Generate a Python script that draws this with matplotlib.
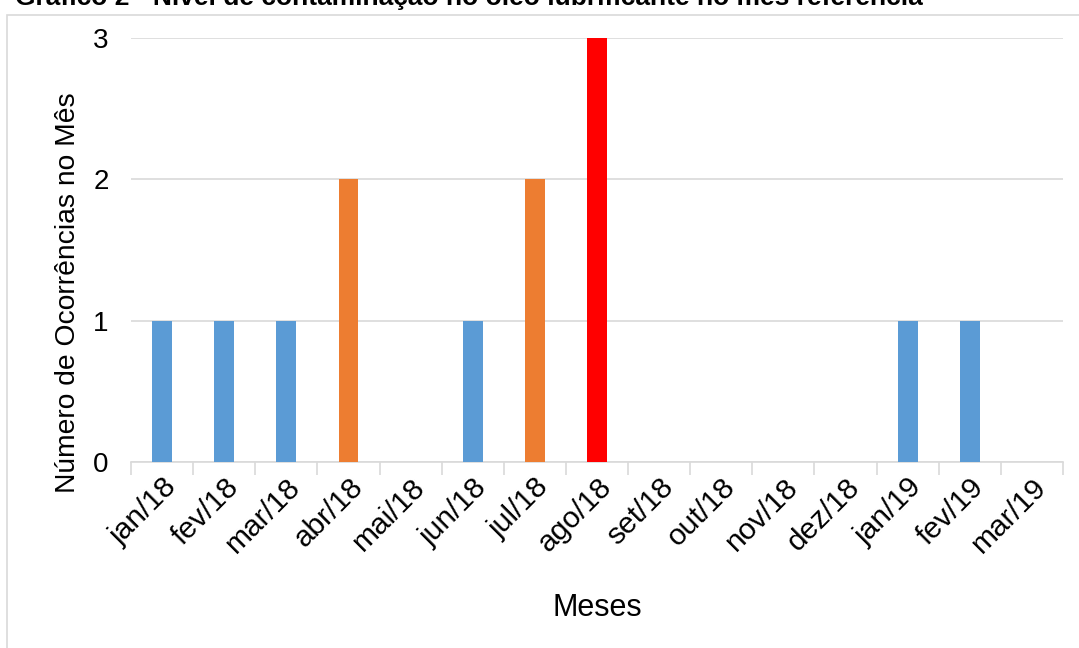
import numpy as np
import matplotlib.pyplot as plt
from matplotlib.patches import Rectangle

plt.rcParams['font.family'] = ['Liberation Sans', 'DejaVu Sans']

# ocorrências por mês
meses = ['jan/18', 'fev/18', 'mar/18', 'abr/18', 'mai/18', 'jun/18', 'jul/18',
         'ago/18', 'set/18', 'out/18', 'nov/18', 'dez/18', 'jan/19', 'fev/19', 'mar/19']
ocorrencias = [1, 1, 1, 2, 0, 1, 2, 3, 0, 0, 0, 0, 1, 1, 0]

# cor conforme o nível de contaminação
cores_nivel = {0: '#5B9BD5', 1: '#5B9BD5', 2: '#ED7D31', 3: '#FF0000'}
cores = [cores_nivel[v] for v in ocorrencias]

fig = plt.figure(figsize=(10.79, 6.48), dpi=100)

# moldura do gráfico
fig.patches.append(Rectangle((7 / 1079, -0.1), 1.2, 1 - 15 / 648 + 0.1,
                             transform=fig.transFigure, fill=False,
                             edgecolor='#D9D9D9', linewidth=1.2))

fig.text(15 / 1079, 1 - 5 / 648,
         'Gráfico 2 - Nível de contaminação no óleo lubrificante no mês referência',
         fontsize=19, fontweight='bold', va='baseline', ha='left')

ax = fig.add_axes([131 / 1079, 1 - 462 / 648, (1063 - 131) / 1079, (462 - 38) / 648])

x = np.arange(len(meses))
ax.bar(x, ocorrencias, width=0.32, color=cores, zorder=3)

ax.set_xlim(-0.5, len(meses) - 0.5)
ax.set_ylim(0, 3)
ax.set_yticks([0, 1, 2, 3])
ax.grid(axis='y', color='#D9D9D9', linewidth=1.2, zorder=0)

for s in ['top', 'right', 'left']:
    ax.spines[s].set_visible(False)
ax.spines['bottom'].set_color('#D9D9D9')
ax.spines['bottom'].set_linewidth(1.2)

# marcas entre as categorias
ax.set_xticks(np.arange(len(meses) + 1) - 0.5, minor=False)
ax.set_xticklabels([])
ax.tick_params(axis='x', which='major', length=9, width=1.2, color='#D9D9D9')
ax.set_xticks(x, minor=True)
ax.set_xticklabels(meses, minor=True, rotation=45, ha='right',
                   rotation_mode='anchor', fontsize=21.5)
ax.tick_params(axis='x', which='minor', length=0, pad=8)
ax.tick_params(axis='y', length=0, labelsize=20, pad=16)

ax.set_ylabel('Número de Ocorrências no Mês', fontsize=20.3)
ax.yaxis.set_label_coords(-0.054, 0.40)
ax.set_xlabel('Meses', fontsize=22, labelpad=25)

fig.savefig('out.png', dpi=100)
